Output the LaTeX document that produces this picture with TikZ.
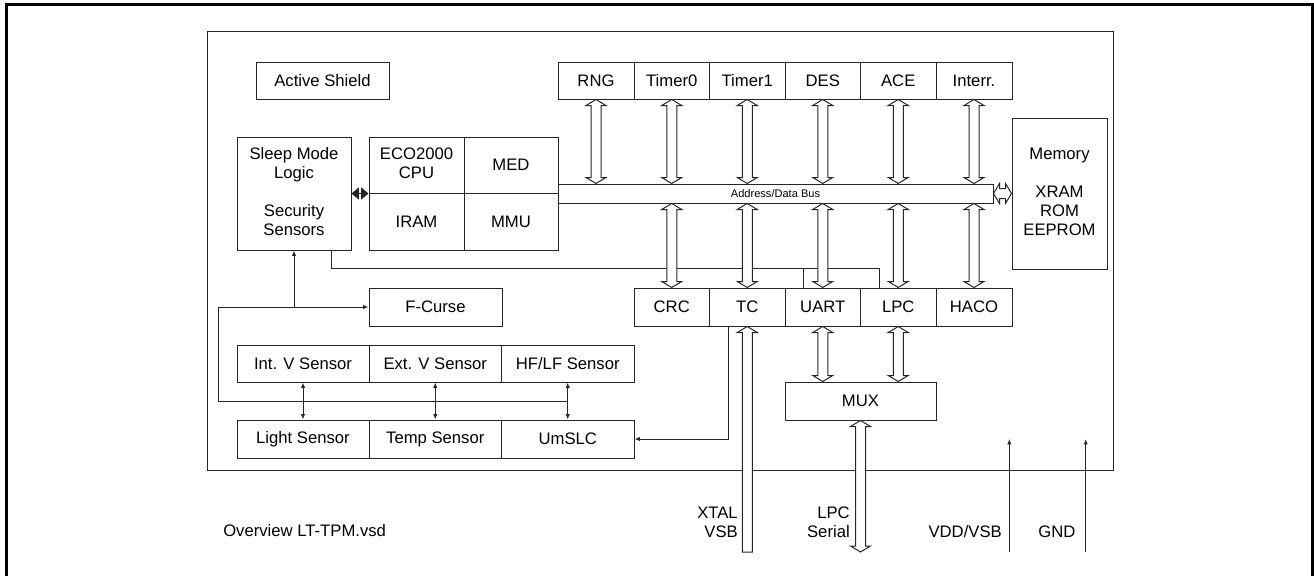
\documentclass[tikz,border=0pt]{standalone}
\usepackage{fontspec}
\setmainfont{Liberation Sans}
\usetikzlibrary{calc,arrows.meta}
\newcommand\mlines[1]{\begin{tabular}{@{}c@{}}#1\end{tabular}}
\tikzset{
  ln/.style={draw=black!85, line width=0.75pt},
  box/.style={ln, rectangle, inner sep=0pt, font=\fontsize{12.5}{14.25}\selectfont},
  corners/.style n args={4}{at={({(#1+#3)/2},{(#2+#4)/2})},
    minimum width={(#3-#1)*0.75pt}, minimum height={(#4-#2)*0.75pt}},
  lbl/.style={inner sep=0pt, font=\fontsize{12.5}{14.25}\selectfont},
  tipsmall/.style={-{Latex[length=4pt,width=3.2pt]}},
  tipboth/.style={{Latex[length=4pt,width=3.2pt]}-{Latex[length=4pt,width=3.2pt]}},
  hollowdbl/.style={ln, fill=white, to path={let \p1=(\tikztostart), \p2=(\tikztotarget) in
    -- (\x1+7.5pt,\y1-4.5pt) -- (\x1+3.75pt,\y1-4.5pt) -- (\x1+3.75pt,\y2+4.5pt)
    -- (\x1+7.5pt,\y2+4.5pt) -- (\x1,\y2) -- (\x1-7.5pt,\y2+4.5pt) -- (\x1-3.75pt,\y2+4.5pt)
    -- (\x1-3.75pt,\y1-4.5pt) -- (\x1-7.5pt,\y1-4.5pt) -- cycle}},
  hollowup/.style={ln, fill=white, to path={let \p1=(\tikztostart), \p2=(\tikztotarget) in
    -- (\x1+7.5pt,\y1-4.5pt) -- (\x1+3.75pt,\y1-4.5pt) -- (\x1+3.75pt,\y2)
    -- (\x1-3.75pt,\y2) -- (\x1-3.75pt,\y1-4.5pt) -- (\x1-7.5pt,\y1-4.5pt) -- cycle}},
  hollowlr/.style={ln, fill=white, to path={let \p1=(\tikztostart), \p2=(\tikztotarget) in
    -- (\x1+4.5pt,\y1+7.5pt) -- (\x1+4.5pt,\y1+3.75pt) -- (\x2-4.5pt,\y1+3.75pt)
    -- (\x2-4.5pt,\y1+7.5pt) -- (\x2,\y1) -- (\x2-4.5pt,\y1-7.5pt) -- (\x2-4.5pt,\y1-3.75pt)
    -- (\x1+4.5pt,\y1-3.75pt) -- (\x1+4.5pt,\y1-7.5pt) -- cycle}},
}
\begin{document}
\begin{tikzpicture}[x=0.75pt,y=-0.75pt]
\useasboundingbox (0,0) rectangle (1314,575);
% outer frame
\draw[line width=2.25pt, line join=miter] (6.7,585) -- (6.7,4.7) -- (1312.7,4.7) -- (1312.7,585);
% chip
\node[box, corners={207}{31}{1113}{470}] (chip) {};
% blocks
\node[box, corners={256}{62}{389}{99}] (shield) {Active Shield};
\node[box, corners={237}{137}{351}{250}] (sleep) {\mlines{Sleep Mode\\Logic\\ \\Security\\Sensors}};
\node[box, corners={369}{137}{464}{193}] (eco) {\mlines{ECO2000\\CPU}};
\node[box, corners={464}{137}{558}{193}] (med) {MED};
\node[box, corners={369}{193}{464}{250}] (iram) {IRAM};
\node[box, corners={464}{193}{558}{250}] (mmu) {MMU};
\node[box, corners={558}{184}{993}{203}, font=\fontsize{8.3}{10}\selectfont] (bus) {Address/Data Bus};
% top peripherals
\node[box, corners={558}{62}{634}{99}] (rng) {RNG};
\node[box, corners={634}{62}{709.5}{99}] (tzero) {Timer0};
\node[box, corners={709.5}{62}{785}{99}] (tone) {Timer1};
\node[box, corners={785}{62}{860.5}{99}] (des) {DES};
\node[box, corners={860.5}{62}{936}{99}] (ace) {ACE};
\node[box, corners={936}{62}{1012}{99}] (intr) {Interr.};
% memory
\node[box, corners={1012}{118}{1107}{269}] (mem) {\mlines{Memory\\ \\XRAM\\ROM\\EEPROM}};
% bottom peripherals
\node[box, corners={634}{288}{709.5}{326}] (crc) {CRC};
\node[box, corners={709.5}{288}{785}{326}] (tc) {TC};
\node[box, corners={785}{288}{860.5}{326}] (uart) {UART};
\node[box, corners={860.5}{288}{936}{326}] (lpc) {LPC};
\node[box, corners={936}{288}{1012}{326}] (haco) {HACO};
\node[box, corners={785}{382}{936}{420}] (mux) {MUX};
% sensors
\node[box, corners={369}{288}{502}{326}] (fcurse) {F-Curse};
\node[box, corners={237}{345}{369}{382}] (intv) {Int. V Sensor};
\node[box, corners={369}{345}{501.5}{382}] (extv) {Ext. V Sensor};
\node[box, corners={501.5}{345}{634}{382}] (hflf) {HF/LF Sensor};
\node[box, corners={237}{420}{369}{458}] (light) {Light Sensor};
\node[box, corners={369}{420}{501.5}{458}] (temp) {Temp Sensor};
\node[box, corners={501.5}{420}{634}{458}] (umslc) {UmSLC};

% sleep <-> cpu
\draw[ln, {Triangle[length=5.5pt,width=9pt]}-{Triangle[length=5.5pt,width=9pt]}] (sleep.east |- eco.south) -- (eco.south west);
% sleep to UART / LPC
\coordinate (sb) at ($(sleep.south east)+(-20,0)$);
\coordinate (lpcin) at ($(lpc.north west)+(19,0)$);
\coordinate (uartin) at ($(uart.north west)+(18.5,0)$);
\draw[ln] (sb) |- ($(lpcin)+(0,-19)$) -- (lpcin);
\draw[ln] (uartin) -- ++(0,-19);
% F-Curse network
\coordinate (k1) at (218,307);
\coordinate (k2) at (218,401);
\draw[ln, tipsmall] (k1) -- (fcurse.west);
\draw[ln, tipsmall] (sleep.south |- k1) -- (sleep.south);
\draw[ln] (k1) -- (k2) -- (k2 -| hflf.south);
\draw[ln, tipboth] (intv.south) -- (light.north);
\draw[ln, tipboth] (extv.south) -- (temp.north);
\draw[ln, tipboth] (hflf.south) -- (umslc.north);
% TC to UmSLC
\draw[ln, tipsmall] ($(tc.south west)+(19,0)$) |- (umslc.east);
% bus arrows
\draw[hollowdbl] (rng.south) to (rng.south |- bus.north);
\draw[hollowdbl] (tzero.south) to (tzero.south |- bus.north);
\draw[hollowdbl] (tone.south) to (tone.south |- bus.north);
\draw[hollowdbl] (des.south) to (des.south |- bus.north);
\draw[hollowdbl] (ace.south) to (ace.south |- bus.north);
\draw[hollowdbl] (intr.south) to (intr.south |- bus.north);
\draw[hollowdbl] (bus.south -| crc.north) to (crc.north);
\draw[hollowdbl] (bus.south -| tc.north) to (tc.north);
\draw[hollowdbl] (bus.south -| uart.north) to (uart.north);
\draw[hollowdbl] (bus.south -| lpc.north) to (lpc.north);
\draw[hollowdbl] (bus.south -| haco.north) to (haco.north);
\draw[hollowlr] (bus.east) to (mem.west |- bus.east);
\draw[hollowdbl] (uart.south) to (uart.south |- mux.north);
\draw[hollowdbl] (lpc.south) to (lpc.south |- mux.north);
% pins
\coordinate (pinrow) at (0,552);
\draw[hollowup] (tc.south) to (tc.south |- pinrow);
\draw[hollowdbl] (mux.south) to (mux.south |- pinrow);
\coordinate (vdd) at (1009.3,552);
\coordinate (gnd) at (1085.7,552);
\draw[ln, tipsmall] (vdd) -- (vdd |- umslc.east);
\draw[ln, tipsmall] (gnd) -- (gnd |- umslc.east);
% labels
\node[lbl, anchor=east, align=right] (xtallbl) at (738,522.5) {XTAL\\VSB};
\node[lbl, anchor=east, align=right] (lpclbl) at (850,522.5) {LPC\\Serial};
\node[lbl, anchor=east] (vddlbl) at (1002,532) {VDD/VSB};
\node[lbl] (gndlbl) at (1057,532) {GND};
\node[lbl, anchor=west] (ovl) at (223,531) {Overview LT-TPM.vsd};
\end{tikzpicture}
\end{document}
